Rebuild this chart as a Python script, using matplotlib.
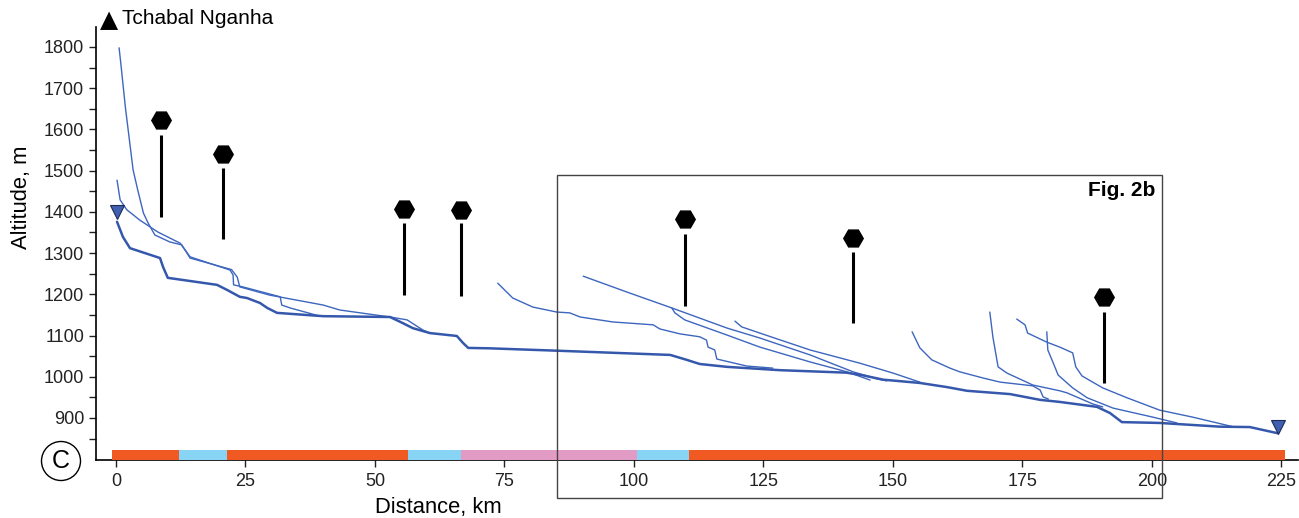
import numpy as np
import matplotlib
matplotlib.use('Agg')
import matplotlib.pyplot as plt
from matplotlib.patches import Rectangle

plt.rcParams['font.family'] = ['Liberation Sans', 'DejaVu Sans']

# main river profile (km, m)
main_km = [0.2, 1.35, 2.7, 8.5, 9.1, 10.0, 19.5, 21.4, 23.9, 25.3, 27.8, 29.2, 31.1, 40.0,
           52.9, 55.4, 57.3, 60.6, 65.8, 67.0, 68.0, 72.2, 85.7, 107.0, 110.2, 112.7, 118.0,
           128.2, 141.0, 144.0, 148.1, 155.2, 160.4, 164.3, 172.6, 178.4, 182.2, 189.4, 191.9,
           194.2, 201.5, 213.1, 218.9, 224.3]
main_alt = [1376, 1339, 1312, 1288, 1266, 1240, 1223, 1211, 1194, 1191, 1179, 1167, 1155, 1147,
            1145, 1130, 1118, 1106, 1099, 1082, 1070, 1069, 1063, 1053, 1041, 1031, 1024,
            1016, 1010, 1004, 993, 985, 975, 966, 958, 944, 939, 927, 912,
            890, 888, 879, 878, 863]

# tributaries
trib_km = [
    [0.6, 1.0, 1.8, 3.3, 4.2, 5.3, 6.2, 7.5, 10.4, 12.7, 14.3, 22.3, 23.4, 23.9, 29.7, 40.0,
     43.2, 52.9, 56.2, 59.3, 60.6],
    [0.2, 0.8, 2.1, 4.6, 8.1, 12.4, 14.3, 16.2, 22.0, 22.6, 22.7, 24.5, 31.7, 32.0, 33.6, 39.4],
    [73.7, 76.6, 80.5, 85.1, 87.6, 89.6, 95.9, 103.7, 105.0, 108.9, 112.7, 114.0, 114.3, 115.6,
     116.0, 121.8, 126.8],
    [90.2, 99.2, 107.3, 118.0, 124.3, 134.0, 142.3, 146.9, 148.8],
    [107.3, 107.9, 109.8, 118.0, 124.3, 134.0, 141.1, 145.6],
    [119.5, 120.8, 124.3, 134.0, 143.6, 150.0, 155.2],
    [153.7, 155.2, 157.5, 161.0, 162.9, 167.4, 170.7, 177.0, 178.4, 179.0, 180.0],
    [168.7, 169.3, 170.3, 172.0, 177.0, 182.2, 183.6, 188.6, 190.5],
    [173.9, 175.5, 176.0, 179.7, 182.2, 184.7, 185.3, 186.5, 190.5, 195.2, 201.5, 207.9, 215.6],
    [179.7, 179.9, 180.7, 181.9, 184.7, 187.5, 192.5, 200.2, 204.8],
]
trib_alt = [
    [1798, 1752, 1655, 1502, 1453, 1397, 1373, 1344, 1327, 1320, 1288, 1260, 1242, 1218, 1198, 1174,
     1162, 1145, 1138, 1113, 1106],
    [1477, 1429, 1405, 1380, 1351, 1324, 1291, 1283, 1259, 1247, 1223, 1218, 1194, 1174, 1167, 1147],
    [1227, 1191, 1169, 1157, 1155, 1145, 1133, 1126, 1116, 1104, 1097, 1089, 1072, 1065,
     1043, 1026, 1021],
    [1244, 1203, 1167, 1118, 1094, 1053, 1012, 995, 990],
    [1167, 1155, 1138, 1101, 1072, 1036, 1012, 992],
    [1135, 1121, 1106, 1065, 1033, 1009, 987],
    [1109, 1070, 1041, 1021, 1012, 997, 987, 978, 968, 951, 946],
    [1157, 1096, 1024, 1009, 980, 966, 961, 934, 927],
    [1140, 1126, 1106, 1084, 1072, 1058, 1024, 1002, 973, 949, 919, 902, 879],
    [1109, 1065, 1041, 1004, 973, 949, 924, 902, 888],
]

# sites: hexagon position and the stem below it
site_km = [8.7, 20.6, 55.6, 66.7, 109.8, 142.3, 190.7]
site_alt = [1623, 1540, 1406, 1405, 1383, 1337, 1194]
stem_top = [1586, 1506, 1373, 1373, 1346, 1303, 1158]
stem_bottom = [1388, 1334, 1199, 1197, 1172, 1130, 986]

# source and mouth
end_km = [0.2, 224.3]
end_alt = [1399, 878]

# substrate bar along the profile
bar_edges = [-0.8, 12.2, 21.4, 56.4, 66.6, 100.6, 110.6, 225.7]
bar_colors = ['#F05A22', '#88D4F4', '#F05A22', '#88D4F4', '#E19BC5', '#88D4F4', '#F05A22']

line_col = '#3D66BF'
main_col = '#3558AD'

fig = plt.figure(figsize=(12.99, 5.18), dpi=100)
ax = fig.add_axes([96 / 1299, 58 / 518, 1202 / 1299, 433 / 518])

ymin = 798.1
for k, a in zip(trib_km, trib_alt):
    ax.plot(k, a, color=line_col, lw=1.0, solid_capstyle='round')
ax.plot(main_km, main_alt, color=main_col, lw=1.8, solid_capstyle='round')

ax.vlines(site_km, stem_bottom, stem_top, color='black', lw=2.2)
ax.plot(site_km, site_alt, 'H', color='black', ms=14)

ax.plot(end_km, end_alt, 'v', ms=10, mfc='#3F5FB0', mec='#1E2B55', mew=0.8, ls='none')

segs = [(bar_edges[i], bar_edges[i + 1] - bar_edges[i]) for i in range(len(bar_colors))]
ax.broken_barh(segs, (ymin, 24), facecolors=bar_colors, zorder=3)

ax.add_patch(Rectangle((85.1, 706), 116.8, 783.5, fill=False, ec='#444444', lw=1.0,
                       clip_on=False, zorder=4))
ax.text(200.6, 1451, 'Fig. 2b', ha='right', va='center', fontsize=15, fontweight='bold')

ax.set_xlim(-3.86, 228.2)
ax.set_ylim(ymin, 1848.5)
ax.set_xticks(np.arange(0, 226, 25))
ax.set_yticks(np.arange(900, 1801, 100))
ax.set_yticks(np.arange(850, 1800, 100), minor=True)
ax.tick_params(axis='both', which='both', direction='out', length=5, width=1, labelsize=13,
               colors='#222222')
ax.tick_params(axis='x', pad=4)
ax.spines['top'].set_visible(False)
ax.spines['right'].set_visible(False)
ax.spines['left'].set_linewidth(1.2)
ax.spines['bottom'].set_linewidth(1.2)

ax.set_xlabel('Distance, km', fontsize=15.8)
ax.xaxis.set_label_coords((438 - 96) / 1202, -0.085)
fig.text(22 / 1299, 1 - 197 / 518, 'Altitude, m', rotation=90, ha='center', va='center',
         fontsize=15.8)

fig.text(109 / 1299, 1 - 20 / 518, '\u25B2', ha='center', va='center', fontsize=17,
         family='DejaVu Sans')
fig.text(122 / 1299, 1 - 19 / 518, 'Tchabal Nganha', ha='left', va='center', fontsize=15)
fig.text(61 / 1299, 1 - 461 / 518, 'C', ha='center', va='center', fontsize=18,
         bbox=dict(boxstyle='circle,pad=0.3', fc='white', ec='black', lw=1.0))

fig.savefig('out.png', dpi=100)
